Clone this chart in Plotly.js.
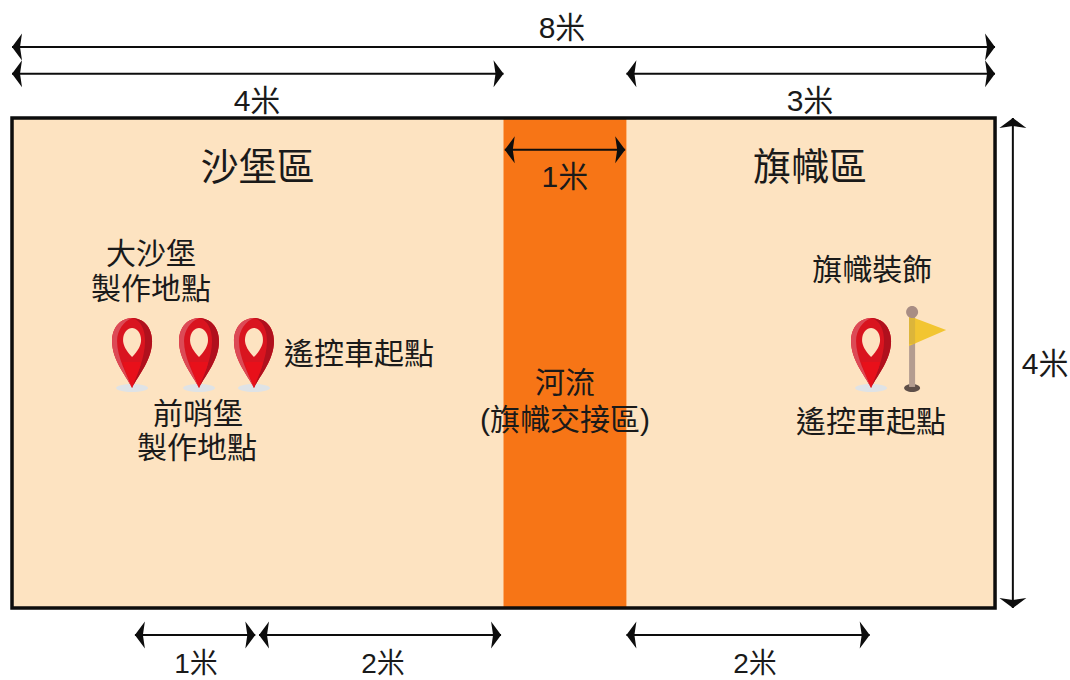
<!DOCTYPE html>
<html><head><meta charset="utf-8">
<script src="https://cdn.plot.ly/plotly-3.0.1.min.js"></script>
<style>html,body{margin:0;padding:0;background:#fff}#c{width:1070px;height:680px}</style>
</head><body><div id="c"></div>
<script>
// Field geometry, in metres
const fieldX = [0, 8];
const fieldY = [0, 4];
const riverX = [4, 5];
// Dimension arrows, in metres: [x0, y0, x1, y1]
const dimH = [
  [0, 4.58, 8, 4.58],
  [0, 4.36, 4, 4.36],
  [5, 4.36, 8, 4.36],
  [4.01, 3.74, 4.99, 3.74],
  [1.0, -0.22, 1.98, -0.22],
  [2.01, -0.22, 3.98, -0.22],
  [5.0, -0.22, 6.98, -0.22]
];
const dimV = [[8.145, 0, 8.145, 4]];
// Labels
const labelText = ["8米","4米","3米","1米","4米",
  "大沙堡","製作地點","遙控車起點","前哨堡","製作地點","河流","(旗幟交接區)","旗幟裝飾","遙控車起點"];
const labelX = [4.476,1.994,6.494,4.5,8.407,
  1.131,1.131,2.824,1.514,1.506,4.5,4.5,7.0,6.99];
const labelY = [4.715,4.117,4.117,3.497,1.97,
  2.868,2.582,2.052,1.562,1.284,1.815,1.513,2.737,1.497];
const bottomText = ["1米","2米","2米"];
const bottomX = [1.497,3.02,6.047];
const bottomY = [-0.47,-0.47,-0.47];
const zoneText = ["沙堡區","旗幟區"];
const zoneX = [2.0,6.494];
const zoneY = [3.57,3.57];
// Pins and flag
const pinX = [0.977,1.522,1.969,6.991];
const pinY = [1.796,1.796,1.796,1.796];
const flagX = [7.325];
const flagY = [1.796];

const SAND="#fde3c1", RIVER="#f77516", INK="#0d0d0d";
const FONT="Liberation Sans, Noto Sans CJK TC, sans-serif";

const shapes=[
  {type:"rect",layer:"below",x0:fieldX[0],x1:fieldX[1],y0:fieldY[0],y1:fieldY[1],fillcolor:SAND,line:{width:0}},
  {type:"rect",layer:"below",x0:riverX[0],x1:riverX[1],y0:fieldY[0],y1:fieldY[1],fillcolor:RIVER,line:{width:0}},
  {type:"rect",layer:"below",x0:fieldX[0],x1:fieldX[1],y0:fieldY[0],y1:fieldY[1],fillcolor:"rgba(0,0,0,0)",line:{color:INK,width:3.5}}
];
function px(ax,ay,path,fill){
  shapes.push({type:"path",layer:"above",xref:"x",yref:"y",xsizemode:"pixel",ysizemode:"pixel",
    xanchor:ax,yanchor:ay,path:path,fillcolor:fill,line:{width:0}});
}
function ell(cx,cy,rx,ry){
  return `M${cx-rx},${cy} C${cx-rx},${cy+ry*0.55} ${cx-rx*0.55},${cy+ry} ${cx},${cy+ry} C${cx+rx*0.55},${cy+ry} ${cx+rx},${cy+ry*0.55} ${cx+rx},${cy} C${cx+rx},${cy-ry*0.55} ${cx+rx*0.55},${cy-ry} ${cx},${cy-ry} C${cx-rx*0.55},${cy-ry} ${cx-rx},${cy-ry*0.55} ${cx-rx},${cy} Z`;
}
pinX.forEach((x,i)=>{
  const y=pinY[i];
  px(x,y,ell(0,0,16,4),"#dfe3e6");
  px(x,y,"M0,0 C-7,14 -20,28 -20,47 C-20,61 -11,70 0,70 C11,70 20,61 20,47 C20,28 7,14 0,0 Z","#d9141f");
  px(x,y,"M0,0 C-7,14 -20,28 -20,47 C-20,61 -11,70 0,70 C-8,67 -15,58 -15,47 C-15,30 -5,14 0,0 Z","#dc4a56");
  px(x,y,"M0,0 C7,14 20,28 20,47 C20,61 11,70 0,70 C9,68 13,58 13,47 C13,30 5,14 0,0 Z","#b0101d");
  px(x,y,"M0,0 C-3,10 -8,18 -9,26 L9,26 C8,18 3,10 0,0 Z","#e8101a");
  px(x,y,"M0,31 C-6,37 -9,43 -9,48 C-9,56 -4,60 0,60 C4,60 9,56 9,48 C9,43 6,37 0,31 Z",SAND);
});
flagX.forEach((x,i)=>{
  const y=flagY[i];
  px(x,y,ell(0,0,8,4),"#5e4f49");
  px(x,y,"M-3,1 L3,1 L3,72 L-3,72 Z","#b39c90");
  px(x,y,"M-3,72 L34,58 L-3,42 Z","#f2c531");
  px(x,y,"M-3,70 L3,70 L3,44 L-3,44 Z","#dcb53a");
  px(x,y,ell(0,76,6,6),"#a88d84");
});

const HEAD_RIGHT="M0,0 L-10,13.5 L-8,0 L-10,-13.5 Z";
const HEAD_LEFT="M0,0 L10,13.5 L8,0 L10,-13.5 Z";
const HEAD_UP="M0,0 L-13.5,-10 L0,-8 L13.5,-10 Z";
const HEAD_DOWN="M0,0 L-13.5,10 L0,8 L13.5,10 Z";
dimH.forEach(a=>{px(a[0],a[1],HEAD_LEFT,INK);px(a[2],a[3],HEAD_RIGHT,INK);});
dimV.forEach(a=>{px(a[0],a[1],HEAD_DOWN,INK);px(a[2],a[3],HEAD_UP,INK);});

function lines(list){
  const lx=[],ly=[];
  list.forEach(a=>{lx.push(a[0],a[2],null);ly.push(a[1],a[3],null);});
  return {type:"scatter",mode:"lines",x:lx,y:ly,line:{color:INK,width:2},hoverinfo:"skip",cliponaxis:false};
}
const data=[
  lines(dimH),lines(dimV),
  {type:"scatter",mode:"text",x:labelX,y:labelY,text:labelText,textposition:"middle center",
   textfont:{family:FONT,size:30,color:"#1a1a1a"},cliponaxis:false,hoverinfo:"skip"},
  {type:"scatter",mode:"text",x:bottomX,y:bottomY,text:bottomText,textposition:"middle center",
   textfont:{family:FONT,size:28,color:"#1a1a1a"},cliponaxis:false,hoverinfo:"skip"},
  {type:"scatter",mode:"text",x:zoneX,y:zoneY,text:zoneText,textposition:"middle center",
   textfont:{family:FONT,size:38,color:"#1a1a1a"},cliponaxis:false,hoverinfo:"skip"}
];
const layout={
  width:1070,height:680,margin:{l:0,r:0,t:0,b:0},showlegend:false,
  paper_bgcolor:"#ffffff",plot_bgcolor:"#ffffff",
  xaxis:{range:[-0.0977,8.61],visible:false,fixedrange:true},
  yaxis:{range:[-0.588,4.963],visible:false,fixedrange:true},
  shapes:shapes
};
Plotly.newPlot("c",data,layout,{displayModeBar:false,staticPlot:true});
</script></body></html>
